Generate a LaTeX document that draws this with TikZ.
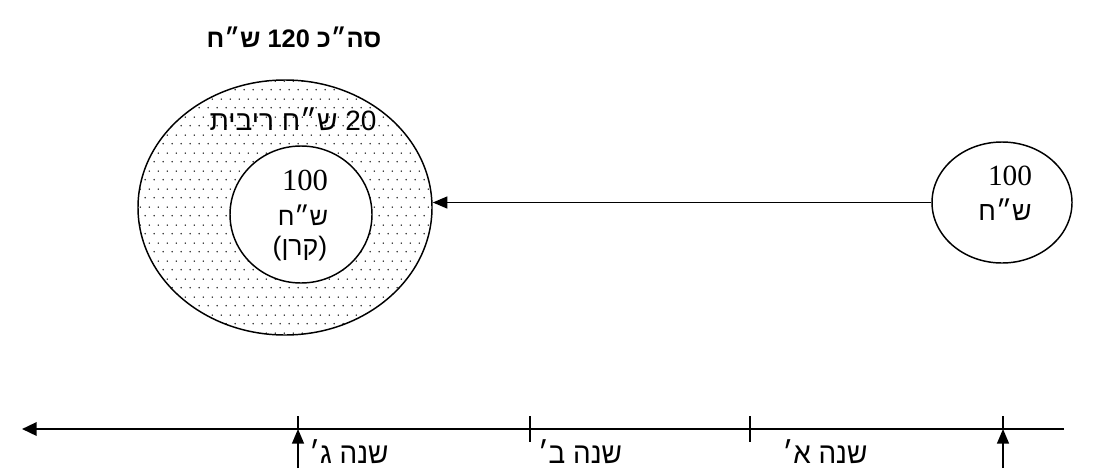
\documentclass[tikz,border=0pt]{standalone}
\usepackage{fontspec}
\setmainfont{Liberation Serif}
\newfontfamily\heb[Script=Hebrew]{Liberation Sans}
\TeXXeTstate=1
\usetikzlibrary{shapes.geometric,patterns.meta,arrows.meta}
\tikzdeclarepattern{name=ringdots, type=uncolored,
  bottom left={(0pt,0pt)}, top right={(6.75pt,13.5pt)},
  tile size={(6.75pt,13.5pt)},
  code={\fill (1pt,1pt) circle (0.62pt); \fill (4.375pt,7.75pt) circle (0.62pt);}}
\tikzset{
  ring/.style={ellipse, draw, line width=1.1pt, inner sep=0pt},
  lbl/.style={inner sep=0pt, anchor=base, font=\heb\fontsize{20}{24}\selectfont},
  num/.style={inner sep=0pt, anchor=base, font=\fontsize{23}{26}\selectfont},
  yearlbl/.style={inner sep=0pt, anchor=base, font=\heb\fontsize{22}{24}\selectfont, xscale=0.95},
  flow/.style={line width=1.1pt, -{Triangle[length=11pt,width=9pt]}},
  axis/.style={line width=1.8pt},
  tick/.style={line width=1.1pt},
}
\begin{document}
\begin{tikzpicture}[x=0.75pt,y=-0.75pt]
\useasboundingbox (0,0) rectangle (1094,468);
% outer ring
\node[ring, minimum width=220.5pt, minimum height=191.25pt, pattern=ringdots] (outer) at (285,207.5) {};
\node[ring, fill=white, minimum width=106.5pt, minimum height=102.75pt] (inner) at (301,214.5) {};
% title
\node[inner sep=0pt, anchor=base, font=\heb\bfseries\fontsize{19}{22}\selectfont] (title) at (294,47) {\beginR סה״כ 120 ש״ח\endR};
\node[lbl, font=\heb\fontsize{21}{24}\selectfont] (interest) at (293,130) {\beginR 20 ש״ח ריבית\endR};
\node[num] (p1) at (305,190) {100};
\node[lbl, font=\heb\fontsize{19}{22}\selectfont] (p2) at (303,225) {ש״ח};
\node[lbl] (p3) at (300,255) {\beginR(קרן)\endR};
% right ellipse
\node[ring, minimum width=105pt, minimum height=90.75pt] (start) at (1002,202.5) {};
\node[num, font=\fontsize{22}{26}\selectfont] (s1) at (1010,185) {100};
\node[lbl] (s2) at (1005,220) {ש״ח};
\draw[flow] (start.west) -- (start.west -| outer.east);
% timeline
\coordinate (tl) at (22,429);
\coordinate (tr) at (1064,429);
\draw[axis, -{Triangle[length=11pt,width=10pt]}] (tr) -- (tl);
\coordinate (t3) at (298,429);
\coordinate (t2) at (530,429);
\coordinate (t1) at (750,429);
\coordinate (t0) at (1003,429);
\coordinate (t3a) at (298,416);
\coordinate (t0a) at (1003,416);
\coordinate (t3b) at (298,468);
\coordinate (t0b) at (1003,468);
\coordinate (t2a) at (530,416);
\coordinate (t2b) at (530,442);
\coordinate (t1a) at (750,416);
\coordinate (t1b) at (750,442);
\draw[tick] (t3a) -- (t3);
\draw[tick] (t0a) -- (t0);
\draw[tick] (t2a) -- (t2b);
\draw[tick] (t1a) -- (t1b);
\draw[flow] (t3b) -- (t3);
\draw[flow] (t0b) -- (t0);
\node[yearlbl] (y3) at (349,463) {\beginR שנה ג׳\endR};
\node[yearlbl] (y2) at (580,463) {\beginR שנה ב׳\endR};
\node[yearlbl] (y1) at (825,463) {\beginR שנה א׳\endR};
\end{tikzpicture}
\end{document}
